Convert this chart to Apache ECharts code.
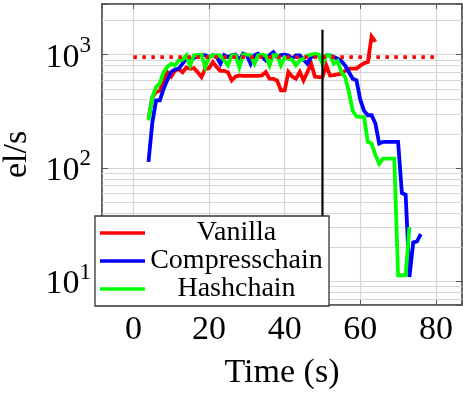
<!DOCTYPE html>
<html><head><meta charset="utf-8">
<script src="https://cdn.jsdelivr.net/npm/echarts@6/dist/echarts.min.js"></script>
<style>html,body{margin:0;padding:0;background:#fff}#c{width:463px;height:395px}</style>
</head><body><div id="c"></div>
<script>
// ---- data ----
const vanillaTime = [4,5,6,7,8,9,10,11,12,13,14,15,16,17,18,19,20,21,22,23,24,25,26,27,28,29,30,31,32,33,34,35,36,37,38,39,40,41,42,43,44,45,46,47,48,49,50,51,52,53,54,55,56,57,58,59,60,61,62,63,64];
const vanillaRate = [273,420,470,480,600,700,640,720,750,700,770,750,760,700,634,750,760,860,780,720,720,700,593,640,656,650,650,650,650,650,656,703,614,610,593,484,484,703,640,614,703,593,700,832,640,634,634,805,656,660,670,680,720,753,753,753,800,840,861,1450,1300];

const compressTime = [4,5,6,7,8,9,10,11,12,13,14,15,16,17,18,19,20,21,22,23,24,25,26,27,28,29,30,31,32,33,34,35,36,37,38,39,40,41,42,43,44,45,46,47,48,49,50,51,52,53,54,55,56,57,58,59,60,61,62,63,64,65,66,67,68,69,70,71,72,73,74,75,76];
const compressRate = [113,250,395,395,500,600,703,740,753,832,922,890,930,985,990,990,950,990,960,832,990,950,990,1000,890,1020,990,832,990,1020,960,890,990,1050,950,990,1000,985,922,985,985,900,832,953,985,985,861,985,985,953,922,880,800,700,614,593,400,320,292,292,246,164,170,170,170,170,170,60,58,10.9,22,22.5,26];

const hashTime = [4,5,6,7,8,9,10,11,12,13,14,15,16,17,18,19,20,21,22,23,24,25,26,27,28,29,30,31,32,33,34,35,36,37,38,39,40,41,42,43,44,45,46,47,48,49,50,51,52,53,54,55,56,57,58,59,60,61,62,63,64,65,66,67,68,69,70,71,72,73];
const hashRate = [263,420,518,560,700,780,832,805,890,900,985,805,985,990,1000,777,950,985,985,985,890,805,990,985,777,1000,1000,990,832,990,1000,985,805,990,990,805,950,922,900,805,890,920,985,1000,1020,1000,832,985,985,832,880,700,634,470,320,285,282,280,170,164,130,109,121,121,121,121,11.3,11.3,11.3,30];

const refTime = [0,80];
const refRate = [950,950];
const markerTime = [50,50];
const markerRate = [6.17,1660];

const legendNames = ['Vanilla','Compresschain','Hashchain'];
const xTicks = [0,20,40,60,80];
const minorGrid = [7,8,9,20,30,40,50,60,70,80,90,200,300,400,500,600,700,800,900,2000];

const X_MIN = -8.3, X_MAX = 86.9, Y_MIN = 6.17, Y_MAX = 2800;
const FONT = 'Liberation Serif';

const pairs = (xs, ys) => xs.map((x,i)=>[x, ys[i]]);

const chart = echarts.init(document.getElementById('c'), null, {renderer:'canvas'});
const frameColor = '#555';
const gridColor = '#d6d6d6';
const LW = 3.8;
const lineSeries = (name, xs, ys, color, z) => ({
  name, type:'line', data: pairs(xs, ys), showSymbol:false, symbol:'none', z: z||2,
  lineStyle:{color, width:LW, join:'miter'}, itemStyle:{color}, animation:false
});
chart.setOption({
  animation:false,
  grid:{left:102, right:1, top:4, bottom:90, show:true, borderColor:frameColor, borderWidth:1.5, backgroundColor:'transparent',
        containLabel:false, outerBoundsMode:'none'},
  xAxis:[{
    type:'value', min:X_MIN, max:X_MAX,
    axisLine:{show:true, onZero:false, lineStyle:{color:frameColor, width:1.5}},
    axisTick:{show:true, inside:true, length:5, lineStyle:{color:frameColor}},
    splitLine:{show:true, lineStyle:{color:gridColor, width:1.2}},
    axisLabel:{margin:8, fontFamily:FONT, fontSize:34, color:'#000',
      formatter: v => xTicks.includes(Math.round(v*1000)/1000) ? String(Math.round(v)) : ''},
    name:'Time (s)', nameLocation:'middle', nameGap:51,
    nameTextStyle:{fontFamily:FONT, fontSize:34, color:'#000'}
  },{
    type:'value', position:'top', min:X_MIN, max:X_MAX,
    axisLine:{show:true, onZero:false, lineStyle:{color:frameColor, width:1.5}},
    axisTick:{show:true, inside:true, length:5, lineStyle:{color:frameColor}},
    splitLine:{show:false}, axisLabel:{show:false}
  }],
  yAxis:[{
    type:'log', logBase:10, min:Y_MIN, max:Y_MAX,
    axisLine:{show:true, onZero:false, lineStyle:{color:frameColor, width:1.5}},
    axisTick:{show:true, inside:true, length:6, lineStyle:{color:frameColor}},
    splitLine:{show:true, lineStyle:{color:gridColor, width:1.2}},
    axisLabel:{margin:11,
      formatter: v => { const l = Math.log10(v); const e = Math.round(l); if (Math.abs(l-e) > 1e-6) return ''; return '{b|10}{e|' + e + '}'; },
      rich:{ b:{fontFamily:FONT, fontSize:34, color:'#000', lineHeight:40, verticalAlign:'bottom'},
             e:{fontFamily:FONT, fontSize:23, color:'#000', lineHeight:30, verticalAlign:'top'} }
    },
    name:'el/s', nameLocation:'middle', nameGap:68,
    nameTextStyle:{fontFamily:FONT, fontSize:34, color:'#000'}
  },{
    type:'log', logBase:10, min:Y_MIN, max:Y_MAX, position:'right',
    axisLine:{show:true, onZero:false, lineStyle:{color:frameColor, width:1.5}},
    axisTick:{show:true, inside:true, length:6, lineStyle:{color:frameColor}},
    splitLine:{show:false}, axisLabel:{show:false}
  }],
  legend:{
    data:legendNames, orient:'vertical', left:95, top:216, itemWidth:45, itemHeight:3.5, itemGap:0, z:10,
    icon:'rect', padding:[3,6,3,5], backgroundColor:'#fff', borderColor:'#333', borderWidth:1.3, borderRadius:0,
    selectedMode:false,
    formatter: n => '{a|' + n + '}',
    textStyle:{ rich:{ a:{width:173, align:'center', fontFamily:FONT, fontSize:28, lineHeight:28, color:'#000'} } }
  },
  series:[
    { name:'grid-minor', type:'line', data:[], z:1, silent:true,
      markLine:{ silent:true, symbol:'none', label:{show:false}, animation:false, z:1,
        lineStyle:{color:gridColor, width:1.2, type:'solid'},
        data: minorGrid.map(v => ({yAxis:v})) } },
    lineSeries('Vanilla', vanillaTime, vanillaRate, '#ff0000', 2),
    lineSeries('Compresschain', compressTime, compressRate, '#0000ff', 2),
    lineSeries('Hashchain', hashTime, hashRate, '#00ff00', 2),
    { name:'reference', type:'line', data:pairs(refTime, refRate), showSymbol:false, symbol:'none', z:3,
      lineStyle:{color:'#ff0000', width:LW, type:[3.5,5.5], cap:'butt'} },
    { name:'marker', type:'line', data:pairs(markerTime, markerRate), showSymbol:false, symbol:'none', z:3,
      lineStyle:{color:'#000', width:2.2} }
  ]
});
</script></body></html>
